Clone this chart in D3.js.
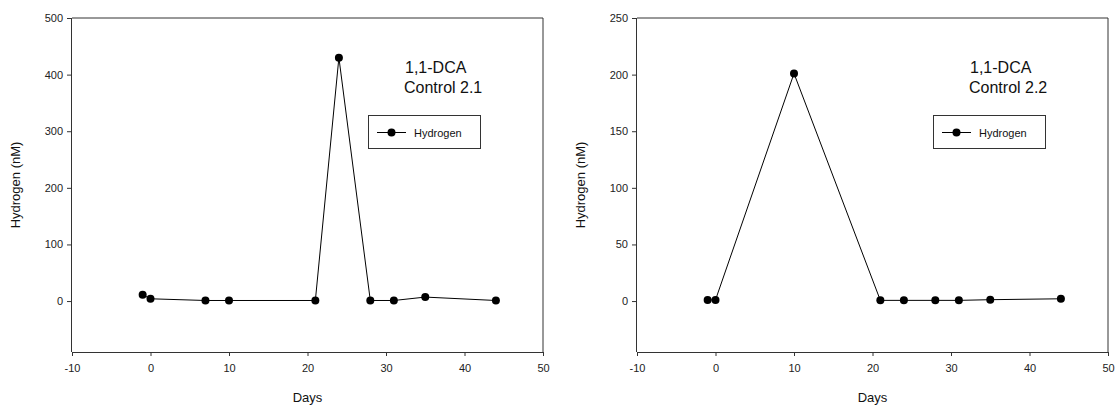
<!DOCTYPE html>
<html>
<head>
<meta charset="utf-8">
<script src="https://cdn.jsdelivr.net/npm/d3@7"></script>
<style>
  body { margin: 0; background: #fff; }
  svg { display: block; font-family: "Liberation Sans", Arial, sans-serif; }
</style>
</head>
<body>
<svg id="chart" width="1115" height="408"></svg>
<script>
// Data
const days1 = [-1, 0, 7, 10, 21, 24, 28, 31, 35, 44];
const hydrogen1 = [11, 4, 1, 1, 1, 430, 1, 1, 7, 1];
const days2 = [-1, 0, 10, 21, 24, 28, 31, 35, 44];
const hydrogen2 = [1, 1, 201, 0.6, 0.6, 0.6, 0.6, 1.2, 2];
const xTicks = [-10, 0, 10, 20, 30, 40, 50];
const yTicks1 = [0, 100, 200, 300, 400, 500];
const yTicks2 = [0, 50, 100, 150, 200, 250];
const titles1 = ["1,1-DCA", "Control 2.1"];
const titles2 = ["1,1-DCA", "Control 2.2"];
const seriesName = "Hydrogen";
const xLabel = "Days";
const yLabel = "Hydrogen (nM)";

const svg = d3.select("#chart");

function panel(left, days, vals, yDomain, yTicks, titles) {
  const top = 18, bottom = 352, width = 471;
  const right = left + width;
  const x = d3.scaleLinear().domain([-10, 50]).range([left, right]);
  const y = d3.scaleLinear().domain(yDomain).range([bottom, top]);
  const g = svg.append("g");

  // frame (top & right)
  g.append("path")
    .attr("d", `M${left},${top}H${right}V${bottom}`)
    .attr("fill", "none").attr("stroke", "#333").attr("stroke-width", 1);

  const fmt = d => String(d);
  const xa = g.append("g").attr("transform", `translate(0,${bottom})`)
    .call(d3.axisBottom(x).tickValues(xTicks).tickSize(4).tickPadding(8).tickFormat(fmt));
  const ya = g.append("g").attr("transform", `translate(${left},0)`)
    .call(d3.axisLeft(y).tickValues(yTicks).tickSize(5).tickPadding(4).tickFormat(fmt));
  [xa, ya].forEach(a => {
    a.select(".domain").attr("stroke", "#333");
    a.selectAll(".tick line").attr("stroke", "#333");
    a.selectAll(".tick text").attr("font-size", 11).attr("fill", "#222")
      .attr("font-family", "Liberation Sans, Arial, sans-serif");
  });
  ya.select(".domain").attr("d", `M-0.5,${top}V${bottom}`);

  const pts = days.map((d, i) => [d, vals[i]]);
  g.append("path").datum(pts)
    .attr("d", d3.line().x(d => x(d[0])).y(d => y(d[1])))
    .attr("fill", "none").attr("stroke", "#000").attr("stroke-width", 1);
  g.selectAll("circle.pt").data(pts).enter().append("circle")
    .attr("cx", d => x(d[0])).attr("cy", d => y(d[1])).attr("r", 4).attr("fill", "#000");

  // titles
  g.append("text").attr("x", left + 333).attr("y", 73).attr("font-size", 16).attr("fill", "#111").text(titles[0]);
  g.append("text").attr("x", left + 332).attr("y", 93).attr("font-size", 16).attr("fill", "#111").text(titles[1]);

  // legend
  const lx = left + 296, ly = 116;
  g.append("rect").attr("x", lx + 0.5).attr("y", ly - 0.5).attr("width", 112).attr("height", 33)
    .attr("fill", "#fff").attr("stroke", "#333").attr("stroke-width", 1);
  g.append("line").attr("x1", lx + 9).attr("x2", lx + 38).attr("y1", ly + 16.5).attr("y2", ly + 16.5)
    .attr("stroke", "#000").attr("stroke-width", 1);
  g.append("circle").attr("cx", lx + 23.5).attr("cy", ly + 16.5).attr("r", 4).attr("fill", "#000");
  g.append("text").attr("x", lx + 46).attr("y", ly + 20.5).attr("font-size", 11).attr("fill", "#111").text(seriesName);

  // axis labels
  g.append("text").attr("x", (left + right) / 2).attr("y", 402).attr("text-anchor", "middle")
    .attr("font-size", 13).attr("fill", "#111").text(xLabel);
  g.append("text").attr("transform", `translate(${left - 52},${(top + bottom) / 2}) rotate(-90)`)
    .attr("text-anchor", "middle").attr("font-size", 13).attr("fill", "#111").text(yLabel);
}

panel(72, days1, hydrogen1, [-90, 500], yTicks1, titles1);
panel(637, days2, hydrogen2, [-45, 250], yTicks2, titles2);
</script>
</body>
</html>
